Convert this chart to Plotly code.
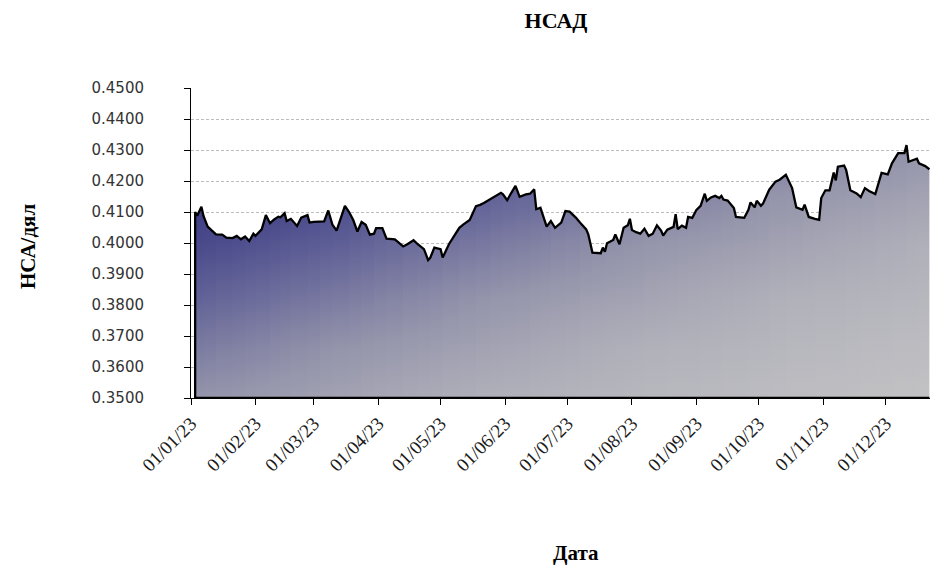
import plotly.graph_objects as go
import pandas as pd
import numpy as np

# ---- data ----
dates = [
    "2023-01-03", "2023-01-04", "2023-01-06", "2023-01-07", "2023-01-09", "2023-01-11", "2023-01-13",
    "2023-01-16", "2023-01-18", "2023-01-21", "2023-01-23", "2023-01-25", "2023-01-27", "2023-01-29",
    "2023-01-31", "2023-02-01", "2023-02-04", "2023-02-06", "2023-02-08", "2023-02-10", "2023-02-12",
    "2023-02-13", "2023-02-15", "2023-02-16", "2023-02-18", "2023-02-21", "2023-02-23", "2023-02-26",
    "2023-02-27", "2023-03-01", "2023-03-04", "2023-03-06", "2023-03-08", "2023-03-10", "2023-03-12",
    "2023-03-16", "2023-03-18", "2023-03-20", "2023-03-22", "2023-03-24", "2023-03-26", "2023-03-28",
    "2023-03-30", "2023-03-31", "2023-04-03", "2023-04-05", "2023-04-09", "2023-04-12", "2023-04-13",
    "2023-04-15", "2023-04-18", "2023-04-20", "2023-04-23", "2023-04-25", "2023-04-26", "2023-04-28",
    "2023-05-01", "2023-05-02", "2023-05-05", "2023-05-07", "2023-05-10", "2023-05-12", "2023-05-15",
    "2023-05-18", "2023-05-20", "2023-05-22", "2023-05-25", "2023-05-27", "2023-05-30", "2023-05-31",
    "2023-06-02", "2023-06-04", "2023-06-06", "2023-06-08", "2023-06-11", "2023-06-13", "2023-06-15",
    "2023-06-16", "2023-06-18", "2023-06-19", "2023-06-21", "2023-06-23", "2023-06-25", "2023-06-28",
    "2023-06-30", "2023-07-02", "2023-07-05", "2023-07-07", "2023-07-10", "2023-07-11", "2023-07-13",
    "2023-07-17", "2023-07-18", "2023-07-19", "2023-07-20", "2023-07-23", "2023-07-24", "2023-07-25",
    "2023-07-26", "2023-07-28", "2023-07-30", "2023-07-31", "2023-08-01", "2023-08-03", "2023-08-05",
    "2023-08-07", "2023-08-09", "2023-08-11", "2023-08-13", "2023-08-15", "2023-08-16", "2023-08-18",
    "2023-08-21", "2023-08-22", "2023-08-23", "2023-08-25", "2023-08-27", "2023-08-28", "2023-08-30",
    "2023-09-01", "2023-09-03", "2023-09-05", "2023-09-06", "2023-09-08", "2023-09-10", "2023-09-12",
    "2023-09-13", "2023-09-14", "2023-09-16", "2023-09-19", "2023-09-20", "2023-09-24", "2023-09-26",
    "2023-09-27", "2023-09-29", "2023-09-30", "2023-10-02", "2023-10-03", "2023-10-06", "2023-10-09",
    "2023-10-11", "2023-10-14", "2023-10-17", "2023-10-19", "2023-10-22", "2023-10-23", "2023-10-25",
    "2023-10-28", "2023-10-30", "2023-10-31", "2023-11-02", "2023-11-04", "2023-11-06", "2023-11-07",
    "2023-11-08", "2023-11-11", "2023-11-12", "2023-11-14", "2023-11-17", "2023-11-19", "2023-11-21",
    "2023-11-23", "2023-11-26", "2023-11-29", "2023-12-02", "2023-12-04", "2023-12-07", "2023-12-10",
    "2023-12-11", "2023-12-12", "2023-12-16", "2023-12-17", "2023-12-20", "2023-12-22",
]
nav = [
    0.4100, 0.4088, 0.4117, 0.4087, 0.4053, 0.4040, 0.4028,
    0.4027, 0.4017, 0.4016, 0.4023, 0.4012, 0.4021, 0.4006,
    0.4030, 0.4023, 0.4044, 0.4090, 0.4064, 0.4076, 0.4085,
    0.4083, 0.4096, 0.4071, 0.4078, 0.4055, 0.4082, 0.4090,
    0.4066, 0.4068, 0.4069, 0.4070, 0.4105, 0.4059, 0.4040,
    0.4120, 0.4100, 0.4074, 0.4037, 0.4068, 0.4059, 0.4027,
    0.4030, 0.4048, 0.4048, 0.4014, 0.4012, 0.3995, 0.3989,
    0.3996, 0.4009, 0.3996, 0.3980, 0.3945, 0.3952, 0.3985,
    0.3980, 0.3953, 0.3996, 0.4017, 0.4049, 0.4060, 0.4074,
    0.4119, 0.4123, 0.4130, 0.4141, 0.4149, 0.4162, 0.4157,
    0.4138, 0.4162, 0.4184, 0.4149, 0.4157, 0.4159, 0.4173,
    0.4109, 0.4114, 0.4093, 0.4053, 0.4071, 0.4049, 0.4066,
    0.4103, 0.4101, 0.4082, 0.4066, 0.4044, 0.4028, 0.3969,
    0.3967, 0.3985, 0.3972, 0.3999, 0.4010, 0.4028, 0.4012,
    0.3996, 0.4049, 0.4057, 0.4078, 0.4042, 0.4035, 0.4030,
    0.4046, 0.4023, 0.4030, 0.4057, 0.4040, 0.4024, 0.4043,
    0.4052, 0.4093, 0.4045, 0.4056, 0.4049, 0.4084, 0.4081,
    0.4107, 0.4120, 0.4159, 0.4136, 0.4147, 0.4152, 0.4145,
    0.4152, 0.4140, 0.4137, 0.4113, 0.4084, 0.4081, 0.4107,
    0.4131, 0.4115, 0.4136, 0.4120, 0.4127, 0.4172, 0.4198,
    0.4204, 0.4220, 0.4177, 0.4115, 0.4107, 0.4124, 0.4084,
    0.4078, 0.4075, 0.4145, 0.4170, 0.4170, 0.4227, 0.4202,
    0.4246, 0.4250, 0.4235, 0.4170, 0.4160, 0.4148, 0.4177,
    0.4168, 0.4158, 0.4226, 0.4221, 0.4257, 0.4290, 0.4290,
    0.4316, 0.4262, 0.4272, 0.4257, 0.4248, 0.4238,
]
y_ticks = [0.35, 0.36, 0.37, 0.38, 0.39, 0.40, 0.41, 0.42, 0.43, 0.44, 0.45]

TITLE = "НСАД"
Y_TITLE = "НСА/дял"
X_TITLE = "Дата"

Y_MIN, Y_MAX = 0.35, 0.45
X_START, X_END = "2023-01-01", "2023-12-22 07:00"

# ---- diagonal gradient (top-left navy -> bottom-right grey) ----
grad_stops = [
    (0.00, (48, 48, 124)),
    (0.15, (62, 62, 133)),
    (0.30, (96, 96, 151)),
    (0.50, (148, 148, 171)),
    (0.70, (176, 176, 186)),
    (1.00, (194, 194, 196)),
]


def grad_color(t):
    t = min(max(t, 0.0), 1.0)
    for (t0, c0), (t1, c1) in zip(grad_stops[:-1], grad_stops[1:]):
        if t <= t1:
            f = (t - t0) / (t1 - t0) if t1 > t0 else 0
            c = [round(a + (b - a) * f) for a, b in zip(c0, c1)]
            return f"rgb({c[0]},{c[1]},{c[2]})"
    c = grad_stops[-1][1]
    return f"rgb({c[0]},{c[1]},{c[2]})"


dt = pd.to_datetime(dates)
x0, x1 = dt[0], dt[-1]
span = (x1 - x0).total_seconds()
top = max(nav)

fig = go.Figure()

step = 3
n = len(dates)
for s in range(0, n - 1, step):
    e = min(s + step + 1, n - 1)
    xs = list(dates[s:e + 1])
    ys = list(nav[s:e + 1])
    mid = dt[s] + (dt[e] - dt[s]) / 2
    u = (mid - x0).total_seconds() / span
    cs = []
    for p in np.linspace(0, 1, 6):
        v = 1 - p
        cs.append([float(p), grad_color((u + v) / 2)])
    fig.add_trace(go.Scatter(
        x=xs + [xs[-1], xs[0]],
        y=ys + [Y_MIN, Y_MIN],
        mode="lines",
        line=dict(width=0),
        fill="toself",
        fillcolor=grad_color(0.4),
        fillgradient=dict(type="vertical", colorscale=cs, start=Y_MIN, stop=top),
        hoverinfo="skip",
        showlegend=False,
    ))

# outline: bottom edge, left edge, then the NAV line
fig.add_trace(go.Scatter(
    x=[dates[-1], dates[0]] + dates,
    y=[Y_MIN, Y_MIN] + nav,
    mode="lines",
    line=dict(color="black", width=2.3),
    showlegend=False,
    hoverinfo="skip",
))

serif = "Liberation Serif"

fig.update_layout(
    width=930, height=566,
    margin=dict(l=191, r=0, t=88, b=168),
    paper_bgcolor="white",
    plot_bgcolor="white",
    showlegend=False,
    title=dict(text=f"<b>{TITLE}</b>", x=(556 - 191) / 739, xref="paper", xanchor="center",
               y=1 - 20 / 566, yanchor="middle",
               font=dict(family=serif, size=22, color="black")),
    xaxis=dict(
        type="date", range=[X_START, X_END],
        tickformat="%d/%m/%y", dtick="M1", tick0="2023-01-01",
        tickangle=-45, ticks="outside", ticklen=6, tickcolor="black",
        showline=True, linecolor="black", linewidth=1,
        showgrid=False, zeroline=False,
        tickfont=dict(family=serif, size=19, color="#1a1a1a"),
    ),
    yaxis=dict(
        range=[Y_MIN, Y_MAX], tickvals=y_ticks, tickformat=".4f",
        ticks="outside", ticklen=6, tickcolor="black",
        showline=True, linecolor="black", linewidth=1,
        showgrid=True, gridcolor="#bdbdbd", griddash="3px,2px", gridwidth=1,
        zeroline=False, ticklabelstandoff=37,
        tickfont=dict(family="DejaVu Sans", size=15, color="#333"),
    ),
    annotations=[
        dict(text=f"<b>{Y_TITLE}</b>", xref="paper", yref="paper",
             x=(28 - 191) / 739, y=(398 - 247) / 310, xanchor="center", yanchor="middle",
             textangle=-90, showarrow=False,
             font=dict(family=serif, size=21, color="black")),
        dict(text=f"<b>{X_TITLE}</b>", xref="paper", yref="paper",
             x=(576 - 191) / 739, y=(398 - 553) / 310, xanchor="center", yanchor="middle",
             showarrow=False,
             font=dict(family=serif, size=21, color="black")),
    ],
)

fig.write_html(
    "out.html",
    config={"displayModeBar": False},
    post_script="document.body.style.margin='0';document.body.style.padding='0';"
                "document.body.style.overflow='hidden';",
)
